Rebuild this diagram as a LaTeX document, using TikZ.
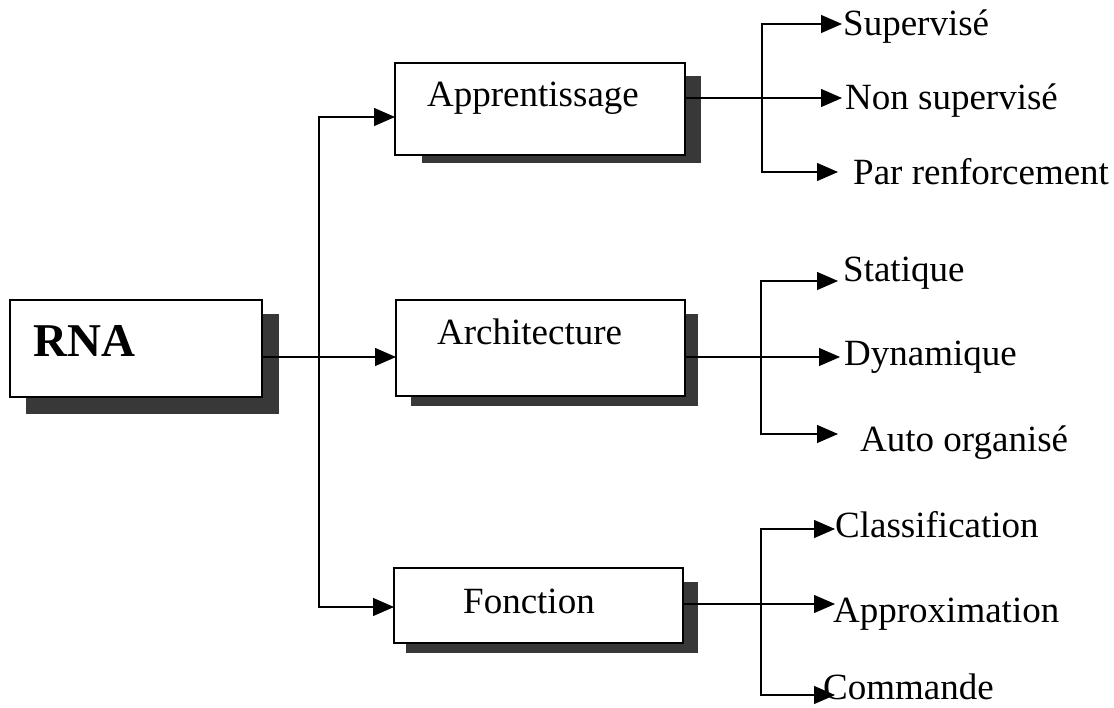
\documentclass[tikz,border=0pt]{standalone}
\usepackage{fontspec}
\setmainfont{Liberation Serif}
\usetikzlibrary{arrows.meta,calc,backgrounds}
\begin{document}
\begin{tikzpicture}[x=1pt,y=-1pt,
  box/.style={draw=black,line width=1.3pt,fill=white,inner sep=0pt},
  boxshadow/.style={fill=black!78},
  boxtext/.style={font=\fontsize{37}{40}\selectfont,anchor=base west,inner sep=0pt},
  leaf/.style={font=\fontsize{37}{40}\selectfont,anchor=base west,inner sep=0pt},
  link/.style={line width=1.2pt},
  arr/.style={link,-{Triangle[length=21pt,width=18pt]}}]
\useasboundingbox (0,0) rectangle (1114,708);

% boxes
\node[box,minimum width=252pt,minimum height=97pt] (rna)  at (136,348.5) {};
\node[box,minimum width=290pt,minimum height=92pt] (app)  at (540,109) {};
\node[box,minimum width=289pt,minimum height=96pt] (arch) at (540.5,348) {};
\node[box,minimum width=289pt,minimum height=75pt] (fon)  at (538.5,605.5) {};

% drop shadows
\begin{scope}[on background layer]
  \fill[boxshadow] ($(rna.south west)+(17,16)$)  rectangle ($(rna.north east)+(16,15)$);
  \fill[boxshadow] ($(app.south west)+(28,7)$)   rectangle ($(app.north east)+(15,14)$);
  \fill[boxshadow] ($(arch.south west)+(16,9)$)  rectangle ($(arch.north east)+(12,15)$);
  \fill[boxshadow] ($(fon.south west)+(13,9)$)   rectangle ($(fon.north east)+(14,15)$);
\end{scope}

% box titles
\node[font=\bfseries\fontsize{47}{50}\selectfont,anchor=base west,inner sep=0pt] (rnat) at (33,357) {RNA};
\node[boxtext] (appt)  at (427,107) {Apprentissage};
\node[boxtext] (archt) at (437,345) {Architecture};
\node[boxtext] (fonct) at (463,613) {Fonction};

% leaves
\node[leaf] (sup)    at (843,36)  {Supervisé};
\node[leaf] (nsup)   at (845,110) {Non supervisé};
\node[leaf] (renf)   at (853,185) {Par renforcement};
\node[leaf] (stat)   at (843,282) {Statique};
\node[leaf] (dyn)    at (844,366) {Dynamique};
\node[leaf] (auto)   at (860,451) {Auto organisé};
\node[leaf] (cls)    at (835,537) {Classification};
\node[leaf] (approx) at (833,622) {Approximation};
\node[leaf] (cmd)    at (823,699) {Commande};

% junction and end points
\coordinate (rnao)   at (262,357);
\coordinate (jn)     at (319,357);
\coordinate (appin)  at (395,117);
\coordinate (archin) at (396,357);
\coordinate (fonin)  at (394,607);

\coordinate (appo)   at (685,98);
\coordinate (appj)   at (762,98);
\coordinate (supin)  at (842,24);
\coordinate (nsupin) at (842,98);
\coordinate (renfin) at (838,172);

\coordinate (archo)  at (685,357);
\coordinate (archj)  at (761,357);
\coordinate (statin) at (838,281);
\coordinate (dynin)  at (840,357);
\coordinate (autoin) at (838,434);

\coordinate (fono)   at (683,604);
\coordinate (fonj)   at (761,604);
\coordinate (clsin)  at (835,529);
\coordinate (apin)   at (835,604);
\coordinate (cmdin)  at (835,695);

% RNA to the three categories
\draw[link] (rnao) -- (jn);
\draw[arr] (jn) -- (archin);
\draw[arr] (jn) |- (appin);
\draw[arr] (jn) |- (fonin);

% Apprentissage branches
\draw[link] (appo) -- (appj);
\draw[arr] (appj) |- (supin);
\draw[arr] (appj) -- (nsupin);
\draw[arr] (appj) |- (renfin);

% Architecture branches
\draw[link] (archo) -- (archj);
\draw[arr] (archj) |- (statin);
\draw[arr] (archj) -- (dynin);
\draw[arr] (archj) |- (autoin);

% Fonction branches
\draw[link] (fono) -- (fonj);
\draw[arr] (fonj) |- (clsin);
\draw[arr] (fonj) -- (apin);
\draw[arr] (fonj) |- (cmdin);
\end{tikzpicture}
\end{document}
